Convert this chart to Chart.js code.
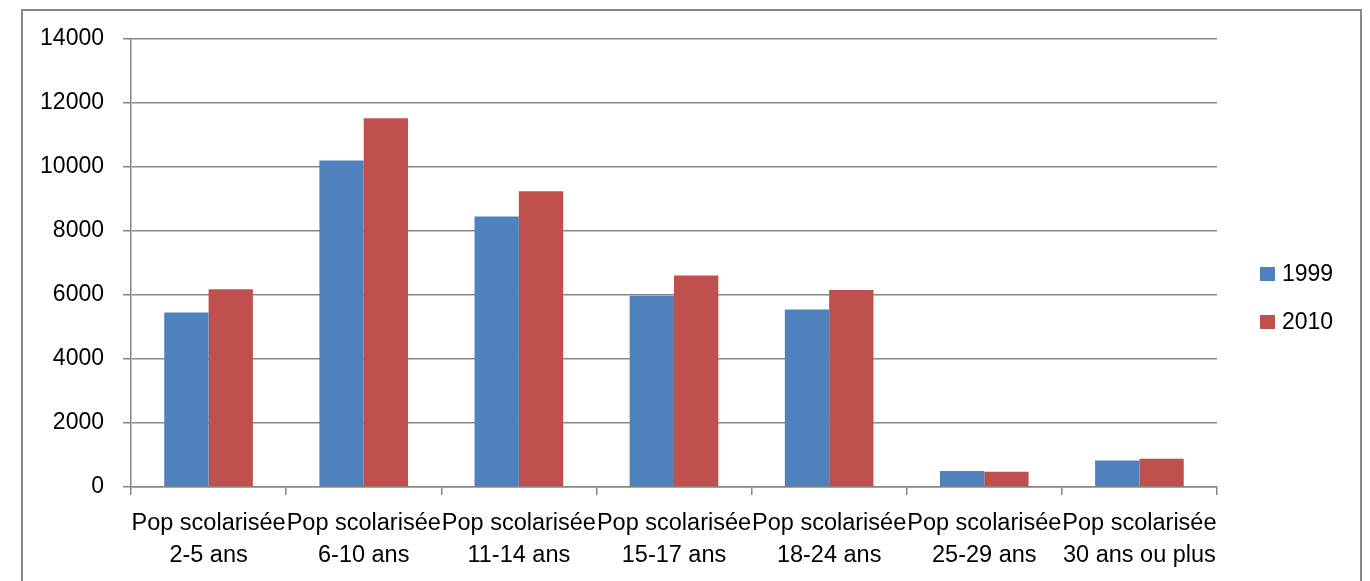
<!DOCTYPE html>
<html>
<head>
<meta charset="utf-8">
<script src="https://cdn.jsdelivr.net/npm/chart.js@4"></script>
<style>
  html, body { margin: 0; padding: 0; background: #fff; overflow: hidden; }
  #frame { position: absolute; left: 21px; top: 9px; width: 1337px; height: 574px; border: 2px solid #878787; }
  canvas { display: block; }
</style>
</head>
<body>
<div id="frame"><canvas id="c" width="1337" height="574"></canvas></div>
<script>
const categories = [
  ["Pop scolarisée", "2-5 ans"],
  ["Pop scolarisée", "6-10 ans"],
  ["Pop scolarisée", "11-14 ans"],
  ["Pop scolarisée", "15-17 ans"],
  ["Pop scolarisée", "18-24 ans"],
  ["Pop scolarisée", "25-29 ans"],
  ["Pop scolarisée", "30 ans ou plus"]
];
const seriesNames = ["1999", "2010"];
const values1999 = [5450, 10200, 8450, 5980, 5550, 500, 825];
const values2010 = [6180, 11520, 9240, 6610, 6160, 475, 885];
const yMin = 0, yMax = 14000, yStep = 2000;

const GRID = '#878787';
const FAMILY = "'Liberation Sans', Arial, sans-serif";
const FONT = { family: FAMILY, size: 23.5, lineHeight: 1.36 };
const YFONT = { family: FAMILY, size: 23, lineHeight: 0.5 };

const legendPlugin = {
  id: 'sideLegend',
  afterDraw(chart) {
    const ctx = chart.ctx;
    ctx.save();
    ctx.font = '23px ' + FAMILY;
    ctx.textBaseline = 'middle';
    ctx.textAlign = 'left';
    chart.data.datasets.forEach((ds, i) => {
      const y = 263 + i * 48;
      ctx.fillStyle = ds.backgroundColor;
      ctx.fillRect(1237, y - 7, 15, 14);
      ctx.fillStyle = '#000';
      ctx.fillText(ds.label, 1259, y + 1);
    });
    ctx.restore();
  }
};

new Chart(document.getElementById('c'), {
  type: 'bar',
  data: {
    labels: categories,
    datasets: [
      { label: seriesNames[0], data: values1999, backgroundColor: '#4F81BD' },
      { label: seriesNames[1], data: values2010, backgroundColor: '#C0504D' }
    ]
  },
  options: {
    responsive: false,
    devicePixelRatio: 1,
    animation: false,
    layout: { padding: { left: 0, top: 28, right: 143, bottom: 0 } },
    datasets: { bar: { categoryPercentage: 2 / 3.5, barPercentage: 1 } },
    plugins: { legend: { display: false }, tooltip: { enabled: false } },
    scales: {
      x: {
        grid: { drawOnChartArea: false, drawTicks: true, tickLength: 8, color: GRID, lineWidth: 1.5, offset: true },
        border: { display: true, color: GRID, width: 1.5 },
        ticks: { color: '#000', font: FONT, padding: 13, maxRotation: 0, autoSkip: false },
        afterFit(s) { s.height = 98; }
      },
      y: {
        min: yMin, max: yMax,
        grid: { color: GRID, lineWidth: 1.5, tickLength: 8 },
        border: { display: true, color: GRID, width: 1.5 },
        ticks: { stepSize: yStep, color: '#000', font: YFONT, padding: 19, callback: v => String(v) },
        afterFit(s) { s.width = 108; }
      }
    }
  },
  plugins: [legendPlugin]
});
</script>
</body>
</html>
